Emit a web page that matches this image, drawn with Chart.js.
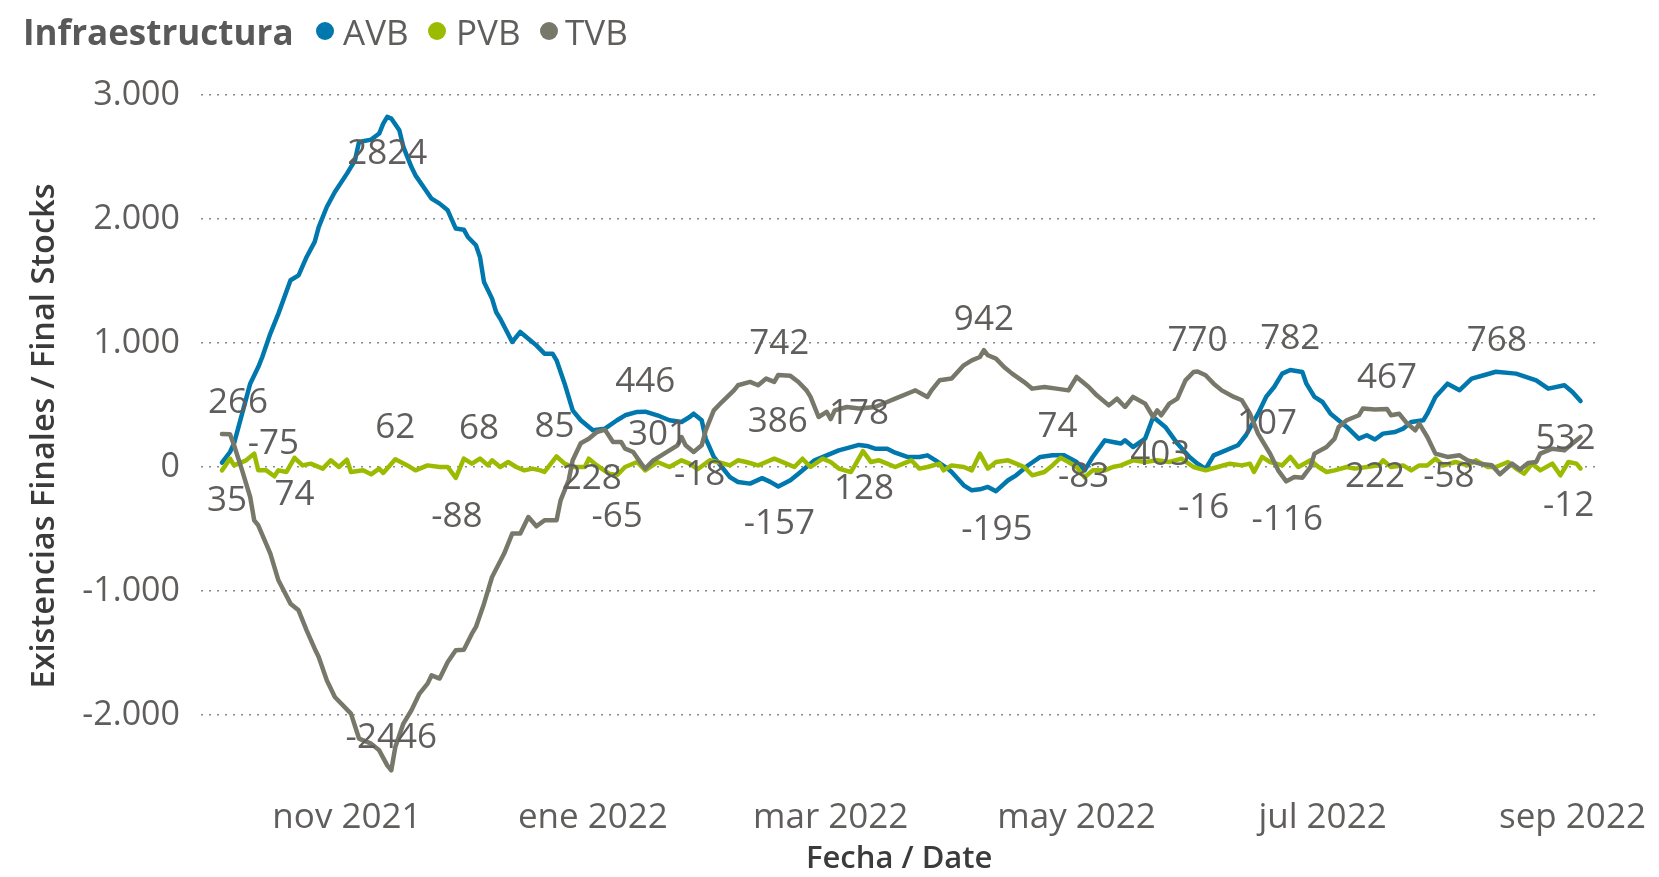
<!DOCTYPE html>
<html>
<head>
<meta charset="utf-8">
<script src="https://cdn.jsdelivr.net/npm/chart.js@4.4.0/dist/chart.umd.min.js"></script>
<style>
    html, body { margin: 0; padding: 0; background: #fff; }
    #wrap { position: relative; width: 1659px; height: 877px; }
    #chart { position: absolute; left: 0; top: 0; }
    .lg { position: absolute; top: 31px; transform: translateY(-50%); line-height: 1; white-space: nowrap;
          font-family: "Segoe UI", "Open Sans", sans-serif; font-size: 35px; color: #605E5C; }
    .lg.title { font-weight: 700; color: #595959; }
    .dot { position: absolute; top: 31px; width: 18px; height: 18px; border-radius: 50%; transform: translate(-50%, -50%); }
</style>
</head>
<body>
<div id="wrap">
    <canvas id="chart" width="1659" height="877"></canvas>
    <div class="lg title" style="left:23px">Infraestructura</div>
    <div class="dot" style="left:325px;background:#0078AE"></div>
    <div class="lg" style="left:343px">AVB</div>
    <div class="dot" style="left:437px;background:#9BBB00"></div>
    <div class="lg" style="left:456px">PVB</div>
    <div class="dot" style="left:549px;background:#78786A"></div>
    <div class="lg" style="left:565px">TVB</div>
</div>
<script>
// day 0 = 1 oct 2021
const avbDays = [0,2,3,5,7,9,10,12,14,17,19,21,23,24,26,28,31,33,34,37,39,40,41,42,44,45,47,48,50,52,54,56,58,60,61,63,64,65,67,68,69,72,74,76,78,80,82,83,85,87,89,92,95,98,100,103,105,108,111,114,116,117,119,120,122,124,126,128,131,134,136,138,141,143,147,150,153,156,158,160,162,165,167,170,173,175,177,180,181,184,186,188,190,192,195,197,200,203,206,209,212,214,216,219,221,223,224,226,229,231,234,237,240,242,244,246,249,252,254,257,259,261,263,265,268,269,271,273,275,279,282,284,286,288,291,293,295,298,299,301,304,307,310,313,316,321,326,329,333,335,337];
const avbValues = [35,121,191,430,672,806,887,1076,1237,1506,1546,1694,1815,1935,2097,2218,2366,2473,2621,2640,2689,2769,2824,2810,2715,2581,2419,2352,2258,2164,2124,2070,1923,1914,1855,1788,1694,1492,1358,1250,1197,1008,1089,1035,981,914,914,860,672,457,377,296,309,377,417,444,446,417,377,363,403,430,377,229,81,0,-81,-121,-134,-90,-120,-157,-107,-54,54,94,134,160,178,170,148,148,115,81,81,94,54,-13,-40,-148,-188,-180,-161,-195,-107,-67,14,81,94,94,40,-27,81,215,202,189,215,161,229,403,323,189,81,27,-16,94,134,175,256,430,565,645,753,782,766,672,565,524,430,323,229,256,222,269,282,309,363,377,430,565,672,619,713,740,768,753,699,632,659,605,532];

const pvbDays = [0,2,3,6,8,9,11,13,14,16,18,20,22,25,27,29,31,32,35,37,39,40,43,46,48,51,54,56,58,60,62,64,66,67,69,71,73,75,77,79,80,83,85,87,90,91,93,96,98,100,103,105,108,111,114,116,118,121,123,126,128,130,133,135,137,140,142,144,146,149,151,153,156,157,159,161,163,165,167,169,171,173,175,178,179,181,184,186,188,190,192,195,197,199,201,204,206,208,210,212,214,216,219,221,223,226,229,232,235,238,241,244,247,250,253,255,256,258,260,263,265,267,270,272,274,276,279,281,284,287,288,290,293,295,297,299,301,303,306,309,311,314,316,319,321,323,325,327,330,332,334,336,337];
const pvbValues = [-27,67,13,54,108,-27,-27,-75,-27,-40,74,13,27,-13,54,0,59,-40,-27,-59,-13,-48,62,13,-27,13,0,0,-88,67,27,68,13,54,0,40,0,-27,-13,-27,-40,85,27,0,0,67,13,-54,-65,0,40,-27,40,0,54,27,-18,54,40,13,54,40,13,40,67,27,0,67,0,67,40,-13,-40,13,128,40,54,27,0,27,54,-13,0,27,-27,13,0,-27,108,-13,40,54,27,0,-67,-40,13,74,40,0,-83,-27,-27,0,13,54,40,54,40,67,0,-27,0,27,13,27,-40,81,40,13,81,0,54,0,-40,-27,0,-13,0,13,54,0,13,-27,13,13,67,13,40,13,54,0,0,40,-13,-54,27,-27,27,-67,40,27,-12];

const tvbDays = [0,2,3,5,7,8,9,12,14,17,19,21,23,24,26,28,32,34,37,39,41,42,43,45,47,49,51,52,54,56,58,60,62,63,65,67,70,72,74,76,78,80,83,84,86,87,89,91,93,95,97,99,100,102,104,105,107,109,111,113,114,115,117,119,120,122,124,127,128,131,133,135,137,138,141,143,145,146,148,150,151,152,155,158,162,165,167,171,172,175,176,178,181,184,186,188,189,190,192,194,196,199,201,204,207,210,212,215,217,220,222,224,226,229,231,232,233,235,237,239,241,242,244,246,248,251,253,255,257,260,262,264,266,268,270,271,274,276,277,279,282,283,286,289,290,292,294,296,297,299,301,304,307,309,312,315,317,320,322,324,326,327,330,333,335,337];
const tvbValues = [266,264,175,-27,-242,-430,-470,-698,-914,-1102,-1156,-1317,-1465,-1532,-1720,-1855,-1989,-2190,-2231,-2285,-2406,-2446,-2258,-2069,-1962,-1827,-1747,-1680,-1706,-1573,-1478,-1473,-1344,-1290,-1102,-887,-698,-537,-537,-403,-478,-430,-430,-269,-107,54,191,228,282,301,202,202,148,121,27,-13,54,94,134,175,242,175,121,175,296,457,524,618,659,686,659,713,686,742,735,686,618,565,403,444,386,457,484,471,484,524,551,605,618,565,618,699,713,820,860,887,942,901,874,806,753,685,632,645,632,618,726,645,578,497,551,484,565,511,403,457,417,511,551,699,766,770,740,672,618,565,538,430,269,107,-27,-116,-81,-86,0,108,161,229,323,377,417,471,463,467,417,430,350,296,350,242,108,81,94,54,27,14,-58,27,-21,32,40,108,148,134,189,242];

// month ticks (day index of the 1st) and their labels
const monthDays = [31, 92, 151, 212, 273, 335];
const monthLabels = ['nov 2021', 'ene 2022', 'mar 2022', 'may 2022', 'jul 2022', 'sep 2022'];
const yTicks = [-2000, -1000, 0, 1000, 2000, 3000];
const yTickLabels = ['-2.000', '-1.000', '0', '1.000', '2.000', '3.000'];

// data labels: [dataset, day, dx, dy]
const labelSpots = [
    [0, 0, 5, 38], [0, 41, 0, 37], [0, 105, 0, -30], [0, 138, 1, 38], [0, 158, 0, -31],
    [0, 192, 1, 39], [0, 231, 7, 38], [0, 244, -2, 39], [0, 265, 0, -31], [0, 286, 0, 38],
    [0, 316, 1, -31], [0, 337, -15, 38],
    [1, 13, -1, -32], [1, 18, 0, 37], [1, 43, 0, -31], [1, 58, 1, 39], [1, 64, -1, -30],
    [1, 83, -2, -29], [1, 98, 0, 42], [1, 118, 2, 6], [1, 159, 1, 38], [1, 208, -3, -31],
    [1, 214, -1, 0], [1, 337, -12, 38],
    [2, 0, 16, -31], [2, 42, 0, -32], [2, 91, 3, 40], [2, 95, 53, 5], [2, 138, 1, -31],
    [2, 151, -53, 3], [2, 189, 0, -30], [2, 242, 0, -30], [2, 260, -3, -30], [2, 264, 1, 39],
    [2, 289, 0, -31], [2, 317, -51, 3]
];

const FONT = '"Segoe UI", "Open Sans", sans-serif';
const TEXT_GREY = '#605E5C';

function toPoints(days, values) {
    return days.map((d, i) => ({ x: d, y: values[i] }));
}

const dataLabels = {
    id: 'dataLabels',
    afterDatasetsDraw(chart) {
        const ctx = chart.ctx;
        ctx.save();
        ctx.font = '35px ' + FONT;
        ctx.fillStyle = TEXT_GREY;
        ctx.textAlign = 'center';
        ctx.textBaseline = 'middle';
        labelSpots.forEach(([ds, day, dx, dy]) => {
            const data = chart.data.datasets[ds].data;
            const idx = data.findIndex(p => p.x === day);
            if (idx < 0) return;
            const el = chart.getDatasetMeta(ds).data[idx];
            ctx.fillText(String(data[idx].y), el.x + dx, el.y + dy);
        });
        ctx.restore();
    }
};

const lineStyle = { borderWidth: 4.5, pointRadius: 0, borderJoinStyle: 'round', borderCapStyle: 'round' };

const ctx = document.getElementById('chart').getContext('2d');
new Chart(ctx, {
    type: 'line',
    data: {
        datasets: [
            { label: 'AVB', data: toPoints(avbDays, avbValues), borderColor: '#0078AE', order: 2, ...lineStyle },
            { label: 'PVB', data: toPoints(pvbDays, pvbValues), borderColor: '#9BBB00', order: 1, ...lineStyle },
            { label: 'TVB', data: toPoints(tvbDays, tvbValues), borderColor: '#78786A', order: 0, ...lineStyle }
        ]
    },
    options: {
        responsive: false,
        animation: false,
        layout: { padding: { top: 95, right: 61, left: 0, bottom: 0 } },
        plugins: { legend: { display: false }, tooltip: { enabled: false } },
        scales: {
            x: {
                type: 'linear',
                min: -5.2,
                max: 341.2,
                grid: { display: false },
                border: { display: false },
                afterBuildTicks: s => { s.ticks = monthDays.map(v => ({ value: v })); },
                afterFit: s => { s.height = 100; },
                ticks: {
                    autoSkip: false,
                    maxRotation: 0,
                    padding: 12,
                    color: TEXT_GREY,
                    font: { family: FONT, size: 35 },
                    callback: v => monthLabels[monthDays.indexOf(v)]
                },
                title: {
                    display: true,
                    text: 'Fecha / Date',
                    color: '#3B3B3B',
                    font: { family: FONT, size: 31, weight: '600', lineHeight: 1 },
                    padding: { top: 0, bottom: 2 }
                }
            },
            y: {
                min: -2500,
                max: 3000,
                afterBuildTicks: s => { s.ticks = yTicks.map(v => ({ value: v })); },
                afterFit: s => { s.width = 201; },
                grid: { color: '#8A8A8A', lineWidth: 1.5, drawTicks: false },
                border: { display: false, dash: [2, 6] },
                ticks: {
                    padding: 21,
                    color: TEXT_GREY,
                    font: { family: FONT, size: 34 },
                    callback: v => yTickLabels[yTicks.indexOf(v)]
                },
                title: {
                    display: true,
                    text: 'Existencias Finales / Final Stocks',
                    color: '#3B3B3B',
                    font: { family: FONT, size: 32.5, weight: '600', lineHeight: 1 },
                    padding: { top: 28, bottom: 0 }
                }
            }
        }
    },
    plugins: [dataLabels]
});
</script>
</body>
</html>
